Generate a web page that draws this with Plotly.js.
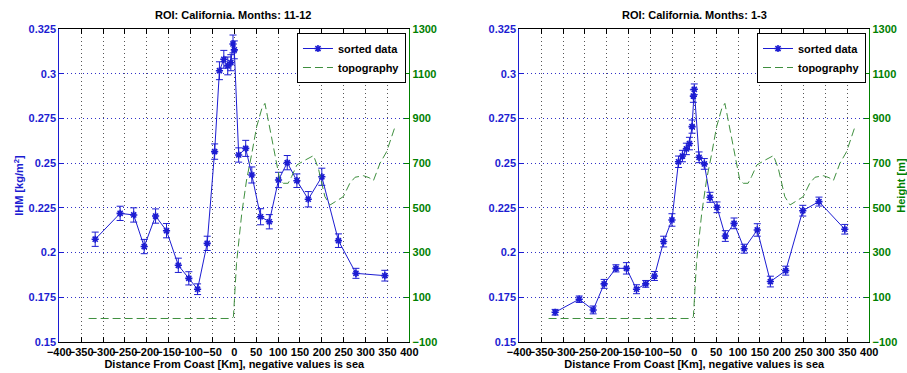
<!DOCTYPE html>
<html>
<head>
<meta charset="utf-8">
<script src="https://cdn.plot.ly/plotly-3.0.1.min.js"></script>
<style>html,body{margin:0;padding:0;background:#fff;}#chart{width:907px;height:373px;}</style>
</head>
<body>
<div id="chart"></div>
<script>
// ---- Data ----
const titleLeft = "ROI: California. Months: 11-12";
const titleRight = "ROI: California. Months: 1-3";
const xTitle = "Distance From Coast [Km], negative values is sea";
const yTitleLeft = "IHM [kg/m<sup>2</sup>]";
const yTitleRight = "Height [m]";
const seriesNames = ["sorted data", "topography"];

const distLeft = [-318, -261, -230, -206, -180, -155, -128, -104, -84, -62, -45, -34, -24, -15, -8, -3, 0, 10, 26, 40, 60, 80, 101, 121, 143, 169, 200, 238, 278, 344];
const ihmLeft = [0.2074, 0.2219, 0.2210, 0.2033, 0.2204, 0.2122, 0.1928, 0.1855, 0.1794, 0.2051, 0.2565, 0.3018, 0.3082, 0.3045, 0.3063, 0.3168, 0.3135, 0.2546, 0.2583, 0.2434, 0.2200, 0.2172, 0.2406, 0.2503, 0.2402, 0.2298, 0.2424, 0.2066, 0.1883, 0.1870];
const errLeft = [0.004, 0.004, 0.004, 0.004, 0.004, 0.004, 0.004, 0.0037, 0.003, 0.004, 0.0043, 0.005, 0.005, 0.005, 0.0045, 0.005, 0.005, 0.004, 0.0045, 0.0045, 0.0045, 0.004, 0.0043, 0.004, 0.0038, 0.0043, 0.0048, 0.0038, 0.0028, 0.003];

const distRight = [-318, -263, -231, -206, -179, -155, -132, -111, -91, -70, -51, -36, -27, -18, -11, -5, -2, 0, 11, 23, 36, 52, 71, 91, 114, 144, 174, 209, 248, 285, 344];
const ihmRight = [0.1665, 0.1738, 0.1678, 0.1824, 0.1911, 0.1911, 0.1794, 0.1824, 0.1868, 0.2061, 0.2182, 0.2508, 0.2540, 0.2580, 0.2610, 0.2705, 0.2876, 0.2914, 0.2533, 0.2496, 0.2309, 0.2253, 0.2092, 0.2163, 0.2021, 0.2126, 0.1837, 0.1898, 0.2234, 0.2285, 0.2130];
const errRight = [0.0016, 0.0018, 0.0022, 0.0025, 0.002, 0.0032, 0.0025, 0.0019, 0.0025, 0.003, 0.0035, 0.0032, 0.0032, 0.0032, 0.0035, 0.0037, 0.0035, 0.003, 0.003, 0.003, 0.0028, 0.003, 0.003, 0.003, 0.0025, 0.0035, 0.003, 0.0025, 0.003, 0.0025, 0.0027];

const topoDist = [-333, -6, -2, 5, 17, 28, 40, 51, 63, 70, 76, 85, 97, 104, 112, 123, 131, 143, 162, 181, 192, 207, 219, 234, 249, 264, 276, 295, 308, 318, 333, 348, 366];
const topoHeight = [4, 4, 12, 251, 475, 625, 744, 863, 946, 968, 908, 819, 700, 625, 610, 610, 640, 692, 714, 734, 677, 550, 513, 531, 550, 610, 637, 644, 635, 622, 700, 751, 856];

const xTickVals = [-400, -350, -300, -250, -200, -150, -100, -50, 0, 50, 100, 150, 200, 250, 300, 350, 400];
const ihmTickVals = [0.15, 0.175, 0.2, 0.225, 0.25, 0.275, 0.3, 0.325];
const ihmTickText = ["0.15", "0.175", "0.2", "0.225", "0.25", "0.275", "0.3", "0.325"];
const heightTickVals = [-100, 100, 300, 500, 700, 900, 1100, 1300];

// ---- Styles ----
const BLUE = '#1c1cd2';
const GREEN = '#008000';
const TOPO = '#3f8f3f';
const FONT = 'Liberation Sans, Arial, sans-serif';
const f = (c, s) => ({family: FONT, size: s || 11, color: c || '#000', weight: 'bold'});

function ihmTrace(x, y, e, xa, ya, leg) {
  return {
    x: x, y: y, xaxis: xa, yaxis: ya, legend: leg,
    type: 'scatter', mode: 'lines+markers', name: seriesNames[0],
    line: {color: BLUE, width: 1},
    marker: {symbol: 'asterisk-open', size: 6, color: BLUE, line: {color: BLUE, width: 1.6}},
    error_y: {type: 'data', array: e, visible: true, color: BLUE, thickness: 1, width: 3.5}
  };
}
function topoTrace(xa, ya, leg) {
  return {
    x: topoDist, y: topoHeight, xaxis: xa, yaxis: ya, legend: leg,
    type: 'scatter', mode: 'lines', name: seriesNames[1],
    line: {color: TOPO, width: 1, dash: '8px,4px'}
  };
}

const data = [
  topoTrace('x', 'y2', 'legend'),
  ihmTrace(distLeft, ihmLeft, errLeft, 'x', 'y', 'legend'),
  topoTrace('x2', 'y4', 'legend2'),
  ihmTrace(distRight, ihmRight, errRight, 'x2', 'y3', 'legend2')
];
data[1].legendrank = 1; data[0].legendrank = 2;
data[3].legendrank = 1; data[2].legendrank = 2;

const yDom = [0.0839, 0.9214];
function xAxis(dom, anchor) {
  return {
    domain: dom, anchor: anchor, range: [-400, 400], tickvals: xTickVals, tickangle: 0,
    showline: true, linecolor: '#000', linewidth: 1, mirror: 'ticks',
    ticks: 'inside', ticklen: 5, tickcolor: '#000',
    showgrid: true, gridcolor: '#555', griddash: '1px,3px', gridwidth: 1,
    zeroline: false, tickfont: f('#000', 11),
    title: {text: xTitle, font: f('#000', 11), standoff: 2},
    automargin: false
  };
}
function ihmAxis(anchor, withTitle) {
  const a = {
    domain: yDom, anchor: anchor, range: [0.15, 0.325], tickvals: ihmTickVals, ticktext: ihmTickText,
    showline: true, linecolor: BLUE, linewidth: 1, ticks: 'inside', ticklen: 5, tickcolor: BLUE,
    showgrid: true, gridcolor: '#3030c8', griddash: '1px,3px', gridwidth: 1,
    zeroline: false, tickfont: f(BLUE, 11),
    automargin: false
  };
  if (withTitle) a.title = {text: yTitleLeft, font: f(BLUE, 11), standoff: 2};
  return a;
}
function heightAxis(anchor, overlay, withTitle) {
  const a = {
    domain: yDom, anchor: anchor, overlaying: overlay, side: 'right', range: [-100, 1300], tickvals: heightTickVals,
    showline: true, linecolor: GREEN, linewidth: 1, ticks: 'inside', ticklen: 5, tickcolor: GREEN,
    showgrid: false, zeroline: false, tickfont: f(GREEN, 11),
    automargin: false
  };
  if (withTitle) a.title = {text: yTitleRight, font: f(GREEN, 11), standoff: 9};
  return a;
}
function legendBox(xr) {
  return {
    x: xr, y: 0.9115, xanchor: 'right', yanchor: 'top',
    bgcolor: '#fff', bordercolor: '#000', borderwidth: 1,
    font: f('#000', 11), tracegroupgap: 0, itemwidth: 30
  };
}

const layout = {
  width: 907, height: 373,
  margin: {l: 0, r: 0, t: 0, b: 0},
  paper_bgcolor: '#fff', plot_bgcolor: '#fff',
  font: f('#000', 11),
  showlegend: true,
  xaxis: xAxis([0.0654, 0.4513], 'y'),
  yaxis: ihmAxis('x', true),
  yaxis2: heightAxis('x', 'y', false),
  xaxis2: xAxis([0.5725, 0.9584], 'y3'),
  yaxis3: ihmAxis('x2', false),
  yaxis4: heightAxis('x2', 'y3', true),
  legend: legendBox(0.4476),
  legend2: legendBox(0.9548),
  annotations: [
    {text: titleLeft, xref: 'paper', yref: 'paper', x: 0.2569, y: 0.9598, xanchor: 'center', yanchor: 'middle', showarrow: false, font: f('#000', 11)},
    {text: titleRight, xref: 'paper', yref: 'paper', x: 0.7652, y: 0.9598, xanchor: 'center', yanchor: 'middle', showarrow: false, font: f('#000', 11)}
  ]
};

Plotly.newPlot('chart', data, layout, {displayModeBar: false, staticPlot: true});
</script>
</body>
</html>
